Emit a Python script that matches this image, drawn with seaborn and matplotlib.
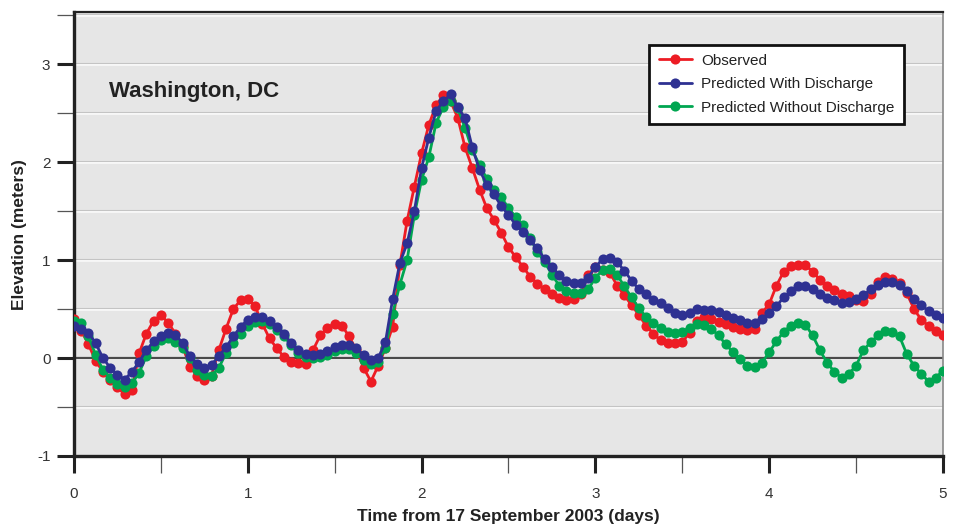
import numpy as np
import pandas as pd
import seaborn as sns
from matplotlib import pyplot as plt
from matplotlib.ticker import MultipleLocator

# hourly samples, 17-22 September 2003
hours = list(range(121))

observed = [
    0.40, 0.28, 0.14, -0.03, -0.14, -0.22, -0.30, -0.37, -0.33, 0.05,
    0.25, 0.38, 0.44, 0.36, 0.25, 0.12, -0.09, -0.18, -0.22, -0.18,
    0.08, 0.30, 0.50, 0.59, 0.60, 0.53, 0.35, 0.20, 0.10, 0.01,
    -0.04, -0.05, -0.06, 0.08, 0.23, 0.31, 0.35, 0.33, 0.22, 0.08,
    -0.10, -0.24, -0.08, 0.10, 0.32, 0.95, 1.40, 1.75, 2.09, 2.38,
    2.58, 2.68, 2.62, 2.45, 2.15, 1.94, 1.72, 1.53, 1.41, 1.28,
    1.13, 1.03, 0.93, 0.83, 0.76, 0.70, 0.65, 0.61, 0.59, 0.60,
    0.65, 0.85, 0.93, 0.90, 0.87, 0.74, 0.64, 0.54, 0.44, 0.33,
    0.25, 0.18, 0.15, 0.15, 0.16, 0.26, 0.38, 0.42, 0.40, 0.37,
    0.35, 0.32, 0.30, 0.29, 0.30, 0.46, 0.55, 0.74, 0.88, 0.94,
    0.95, 0.95, 0.88, 0.80, 0.74, 0.69, 0.65, 0.63, 0.59, 0.58,
    0.65, 0.78, 0.83, 0.81, 0.77, 0.66, 0.50, 0.39, 0.33, 0.28,
    0.24,
]

with_discharge = [
    0.33, 0.30, 0.26, 0.15, 0.00, -0.10, -0.17, -0.22, -0.14, -0.04,
    0.08, 0.17, 0.22, 0.26, 0.24, 0.15, 0.02, -0.06, -0.10, -0.07,
    0.02, 0.11, 0.22, 0.32, 0.39, 0.42, 0.42, 0.38, 0.32, 0.25,
    0.15, 0.08, 0.04, 0.03, 0.04, 0.07, 0.11, 0.13, 0.13, 0.10,
    0.03, -0.02, 0.00, 0.16, 0.60, 0.97, 1.17, 1.50, 1.94, 2.25,
    2.52, 2.62, 2.69, 2.56, 2.45, 2.15, 1.92, 1.77, 1.67, 1.55,
    1.46, 1.36, 1.29, 1.20, 1.12, 1.01, 0.93, 0.85, 0.79, 0.77,
    0.77, 0.82, 0.93, 1.01, 1.02, 0.98, 0.89, 0.79, 0.70, 0.65,
    0.59, 0.56, 0.51, 0.46, 0.44, 0.46, 0.50, 0.49, 0.49, 0.47,
    0.44, 0.41, 0.39, 0.36, 0.36, 0.40, 0.46, 0.53, 0.62, 0.68,
    0.73, 0.73, 0.70, 0.65, 0.61, 0.59, 0.56, 0.57, 0.60, 0.64,
    0.70, 0.75, 0.78, 0.78, 0.75, 0.68, 0.60, 0.54, 0.48, 0.44,
    0.41,
]

without_discharge = [
    0.38, 0.36, 0.22, 0.03, -0.12, -0.20, -0.27, -0.30, -0.26, -0.15,
    0.02, 0.12, 0.18, 0.20, 0.16, 0.10, 0.00, -0.12, -0.17, -0.18,
    -0.10, 0.05, 0.15, 0.25, 0.33, 0.37, 0.38, 0.35, 0.29, 0.22,
    0.13, 0.05, 0.01, 0.00, 0.01, 0.03, 0.07, 0.09, 0.09, 0.05,
    -0.02, -0.06, -0.04, 0.10, 0.45, 0.75, 1.00, 1.46, 1.82, 2.05,
    2.40, 2.56, 2.62, 2.55, 2.35, 2.12, 1.97, 1.83, 1.72, 1.64,
    1.53, 1.44, 1.36, 1.22, 1.08, 0.98, 0.85, 0.74, 0.68, 0.66,
    0.66, 0.70, 0.82, 0.90, 0.91, 0.85, 0.73, 0.62, 0.51, 0.42,
    0.36, 0.31, 0.27, 0.26, 0.27, 0.31, 0.35, 0.34, 0.30, 0.23,
    0.14, 0.06, -0.01, -0.08, -0.09, -0.05, 0.06, 0.17, 0.27, 0.33,
    0.36, 0.34, 0.23, 0.08, -0.05, -0.14, -0.20, -0.16, -0.08, 0.08,
    0.16, 0.23, 0.28, 0.27, 0.22, 0.04, -0.08, -0.16, -0.24, -0.20,
    -0.13,
]

days = [h / 24 for h in hours]

df = pd.DataFrame({
    'days': days,
    'Observed': observed,
    'Predicted With Discharge': with_discharge,
    'Predicted Without Discharge': without_discharge,
})

colors = {
    'Observed': '#ed1c24',
    'Predicted With Discharge': '#2e3192',
    'Predicted Without Discharge': '#00a651',
}
zorders = {'Observed': 3, 'Predicted With Discharge': 5, 'Predicted Without Discharge': 4}

sns.set_style('white')
plt.rcParams['font.family'] = ['Liberation Sans', 'DejaVu Sans']
plt.rcParams['axes.unicode_minus'] = False

fig = plt.figure(figsize=(9.56, 5.29), dpi=100)
ax = fig.add_axes([0.0774, 0.138, 0.909, 0.839])
ax.set_facecolor('#e6e6e6')

for name in ['Observed', 'Predicted With Discharge', 'Predicted Without Discharge']:
    sns.lineplot(data=df, x='days', y=name, ax=ax, color=colors[name],
                 marker='o', markersize=7.3, markeredgewidth=0, linewidth=2,
                 label=name, zorder=zorders[name])

ax.set_xlim(0, 5)
ax.set_ylim(-1, 3.53)
ax.xaxis.set_major_locator(MultipleLocator(1))
ax.xaxis.set_minor_locator(MultipleLocator(0.5))
ax.yaxis.set_major_locator(MultipleLocator(1))
ax.yaxis.set_minor_locator(MultipleLocator(0.5))

# light grid every half metre, dark zero line
for yv in np.arange(-0.5, 3.6, 0.5):
    if abs(yv) < 1e-9:
        continue
    ax.axhline(yv, color='#fbfbfb', linewidth=1.8, zorder=1)
    ax.axhline(yv + 0.008, color='#c4c4c4', linewidth=0.8, zorder=1)
ax.axhline(0, color='#4a4a4a', linewidth=1.6, zorder=2)
ax.axhline(-0.012, color='white', linewidth=1.2, zorder=1)

ax.tick_params(axis='both', which='both', bottom=True, left=True, top=False, right=False)
ax.tick_params(axis='both', which='major', direction='out', length=12, width=2.2,
               color='#222222', labelsize=11, labelcolor='#333333', pad=5)
ax.tick_params(axis='both', which='minor', direction='out', length=12, width=0.9,
               color='#555555')
ax.tick_params(axis='x', which='major', pad=10)

for side in ['left', 'bottom']:
    ax.spines[side].set_color('#222222')
    ax.spines[side].set_linewidth(2.4)
ax.spines['top'].set_color('#222222')
ax.spines['top'].set_linewidth(1.6)
ax.spines['right'].set_color('#888888')
ax.spines['right'].set_linewidth(1.2)

ax.set_xlabel('Time from 17 September 2003 (days)', fontsize=12.5,
              fontweight='bold', color='#222222', labelpad=6)
ax.set_ylabel('Elevation (meters)', fontsize=12.5, fontweight='bold',
              color='#222222', labelpad=7)

ax.text(0.2, 2.72, 'Washington, DC', fontsize=16, fontweight='bold',
        color='#222222', va='center', zorder=6)

leg = ax.legend(loc='upper right', bbox_to_anchor=(0.955, 0.927), fontsize=11,
                frameon=True, fancybox=False, framealpha=1, borderpad=0.6,
                handlelength=2.2, labelspacing=0.62, handletextpad=0.6,
                borderaxespad=0)
leg.get_frame().set_edgecolor('#111111')
leg.get_frame().set_linewidth(2)
leg.set_zorder(7)
for t in leg.get_texts():
    t.set_color('#222222')

plt.savefig('out.png', dpi=100)
